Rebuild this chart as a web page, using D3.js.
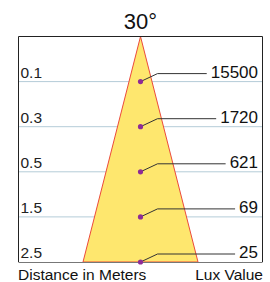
<!DOCTYPE html>
<html lang="en">
<head>
<meta charset="utf-8">
<style>
    html, body { margin: 0; padding: 0; background: #fff; }
    body { font-family: "Liberation Sans", Arial, sans-serif; }
    svg { display: block; }
</style>
</head>
<body>
<script src="https://cdn.jsdelivr.net/npm/d3@7"></script>
<script>
// beam angle and readings at each distance
var beamAngle = '30°';
var distances = ['0.1', '0.3', '0.5', '1.5', '2.5'];
var luxValues = [15500, 1720, 621, 69, 25];
var xLabel = 'Distance in Meters';
var luxLabel = 'Lux Value';

(function() {
    var width = 270, height = 282;
    var box = { left: 18.5, right: 262.5, top: 36.5, bottom: 262 };
    var cx = 140.5;

    var svg = d3.select('body').append('svg')
        .attr('width', width)
        .attr('height', height);

    // one band per distance, the row line sits at the bottom of each band
    var y = d3.scaleBand()
        .domain(distances)
        .range([box.top, box.bottom]);
    var rowY = function (d) { return y(d) + y.bandwidth(); };

    // cone half width grows with depth
    var spread = d3.scaleLinear()
        .domain([box.top, box.bottom])
        .range([0, 57.5]);

    // row lines
    svg.selectAll('line.row')
        .data(distances.slice(0, -1))
        .enter().append('line')
        .attr('class', 'row')
        .attr('x1', box.left).attr('x2', box.right)
        .attr('y1', rowY).attr('y2', rowY)
        .style('stroke', '#b4ccd8')
        .style('stroke-width', 1);

    // the cone
    svg.append('path')
        .attr('d', d3.line()([
            [cx, box.top],
            [cx - spread(box.bottom), box.bottom],
            [cx + spread(box.bottom), box.bottom]
        ]) + 'Z')
        .style('fill', '#fee76e')
        .style('stroke', '#ec4a3c')
        .style('stroke-width', 1);

    // frame
    svg.append('path')
        .attr('d', 'M' + box.left + ',' + box.bottom + 'V' + box.top + 'H' + box.right + 'V' + box.bottom)
        .style('fill', 'none')
        .style('stroke', '#222')
        .style('stroke-width', 1);
    svg.append('line')
        .attr('x1', box.left).attr('x2', box.right)
        .attr('y1', box.bottom + 0.5).attr('y2', box.bottom + 0.5)
        .style('stroke', '#777')
        .style('stroke-width', 1.2);

    // distance labels on the left
    svg.selectAll('text.dist')
        .data(distances)
        .enter().append('text')
        .attr('class', 'dist')
        .attr('x', 20.5)
        .attr('y', function (d) { return rowY(d) - 4; })
        .style('font-size', '15.5px')
        .style('fill', '#222')
        .text(function (d) { return d; });

    // lux labels, then leader lines to the dots
    var labels = svg.selectAll('text.lux')
        .data(luxValues)
        .enter().append('text')
        .attr('class', 'lux')
        .attr('x', 258)
        .attr('y', function (d, i) { return rowY(distances[i]) - 4; })
        .attr('text-anchor', 'end')
        .style('font-size', '17px')
        .style('fill', '#111')
        .text(function (d) { return d; });

    labels.each(function (d, i) {
        var w = this.getComputedTextLength();
        var yy = rowY(distances[i]);
        svg.append('polyline')
            .attr('points', [[cx, yy], [cx + 17, yy - 8], [258 - w - 4, yy - 8]].join(' '))
            .style('fill', 'none')
            .style('stroke', '#333')
            .style('stroke-width', 1);
    });

    svg.selectAll('circle')
        .data(distances)
        .enter().append('circle')
        .attr('cx', cx)
        .attr('cy', rowY)
        .attr('r', 2.6)
        .style('fill', '#8e2c96');

    // title and bottom captions
    svg.append('text')
        .attr('x', cx).attr('y', 29)
        .attr('text-anchor', 'middle')
        .style('font-size', '22px')
        .style('fill', '#111')
        .text(beamAngle);

    svg.append('text')
        .attr('x', 18).attr('y', 279.5)
        .style('font-size', '15.5px')
        .style('fill', '#111')
        .text(xLabel);

    svg.append('text')
        .attr('x', 263).attr('y', 279.5)
        .attr('text-anchor', 'end')
        .style('font-size', '15.5px')
        .style('fill', '#111')
        .text(luxLabel);
})();
</script>
</body>
</html>
